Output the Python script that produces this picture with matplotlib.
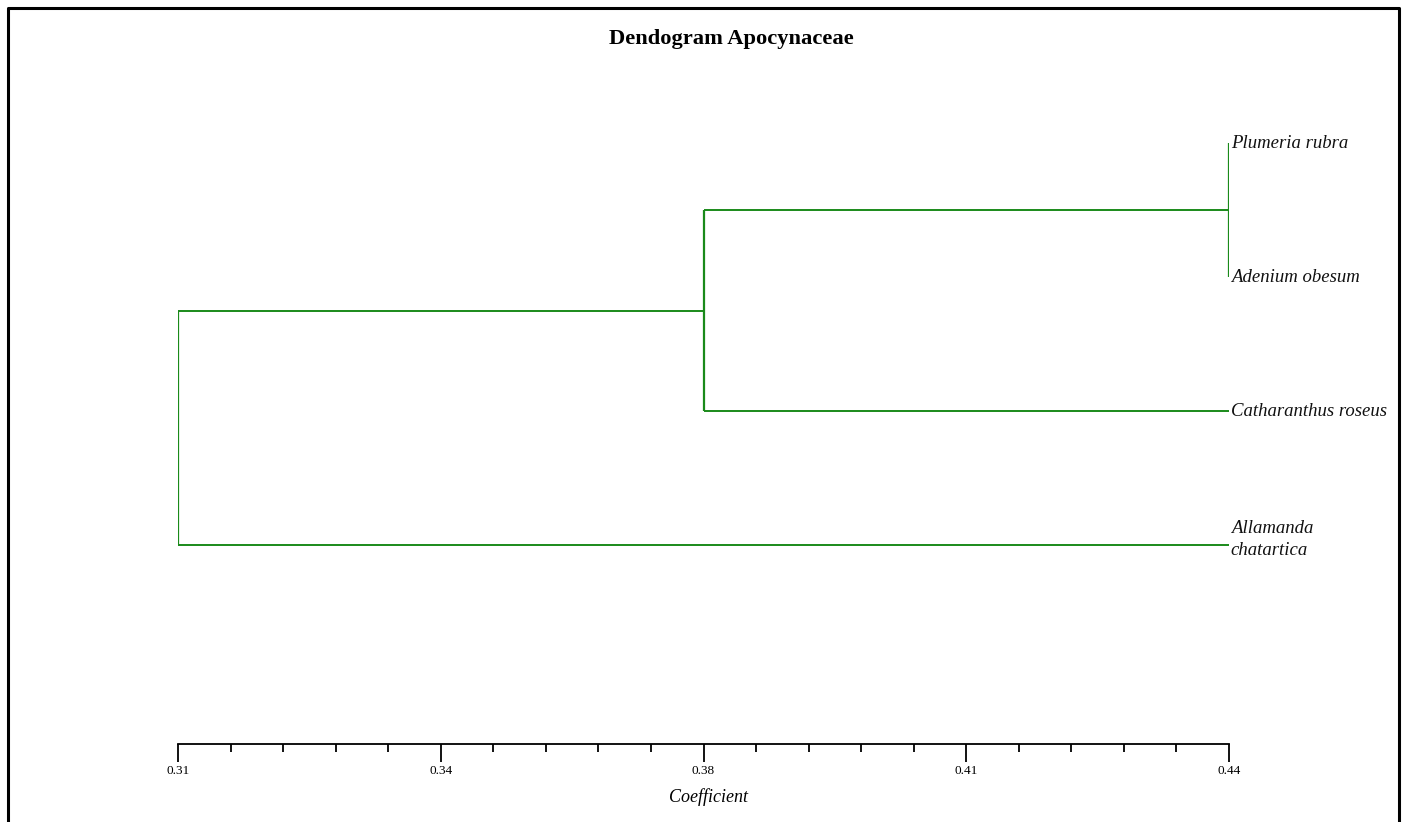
import matplotlib
matplotlib.use("Agg")
import matplotlib.pyplot as plt
from matplotlib.lines import Line2D
from matplotlib.ticker import FixedLocator, FixedFormatter

# leaves, top to bottom
leaves = ['Plumeria rubra', 'Adenium obesum', 'Catharanthus roseus', 'Allamanda\nchatartica']
# merges: (left node, right node, coefficient); nodes 0-3 are leaves
merges = [(0, 1, 0.44), (4, 2, 0.375), (5, 3, 0.31)]
major_ticks = [0.31, 0.3425, 0.375, 0.4075, 0.44]
major_labels = ['0.31', '0.34', '0.38', '0.41', '0.44']
line_color = '#1a8a1a'

W, H = 1403, 822
fig = plt.figure(figsize=(W / 100, H / 100), dpi=100)
fig.patch.set_facecolor('white')

# axes placed in pixel terms: x 0.31 -> 178px, 0.44 -> 1229px, axis line at 744px
ax = fig.add_axes([178 / W, 1 - 744 / H, (1229 - 178) / W, (744 - 100) / H])
ax.set_xlim(0.31, 0.44)
ax.set_ylim(4.485, -0.321)

pos = {i: (float(i), 0.44) for i in range(len(leaves))}
nid = len(leaves)
for a, b, h in merges:
    ya, xa = pos[a]
    yb, xb = pos[b]
    ax.plot([xa, h], [ya, ya], color=line_color, lw=1.4, solid_capstyle='butt')
    ax.plot([xb, h], [yb, yb], color=line_color, lw=1.4, solid_capstyle='butt')
    ax.plot([h, h], [ya, yb], color=line_color, lw=1.6, solid_capstyle='butt')
    pos[nid] = ((ya + yb) / 2, h)
    nid += 1

for i, name in enumerate(leaves):
    yy = i - 0.04 if '\n' in name else i
    ax.text(0.44 + 0.0002, yy, name, ha='left', va='center',
            fontsize=13.5, style='italic', family='Liberation Serif', color='#111111',
            linespacing=1.4, clip_on=False)

for s in ['top', 'right', 'left']:
    ax.spines[s].set_visible(False)
ax.spines['bottom'].set_linewidth(1.3)
ax.set_yticks([])
ax.xaxis.set_major_locator(FixedLocator(major_ticks))
ax.xaxis.set_major_formatter(FixedFormatter(major_labels))
ax.xaxis.set_minor_locator(FixedLocator([0.31 + 0.0065 * k for k in range(21)]))
ax.tick_params(axis='x', which='major', length=13, width=1.3, labelsize=9.5, pad=2)
ax.tick_params(axis='x', which='minor', length=6, width=1.3)
for lab in ax.get_xticklabels():
    lab.set_family('Liberation Serif')
ax.set_xlabel('Coefficient', fontsize=13, style='italic', family='Liberation Serif')
ax.xaxis.set_label_coords((708 - 178) / (1229 - 178), -(797 - 744) / (744 - 100), transform=ax.transAxes)
ax.xaxis.label.set_va('center')

fig.text(731 / W, 1 - 39 / H, 'Dendogram Apocynaceae', ha='center', va='center',
         fontsize=16.2, fontweight='bold', family='Liberation Serif')

# page border (no bottom edge)
fig.add_artist(Line2D([8 / W, 8 / W, 1399 / W, 1399 / W], [0, 1 - 8 / H, 1 - 8 / H, 0],
                      color='black', lw=2.2, transform=fig.transFigure))

fig.savefig('out.png', dpi=100)
